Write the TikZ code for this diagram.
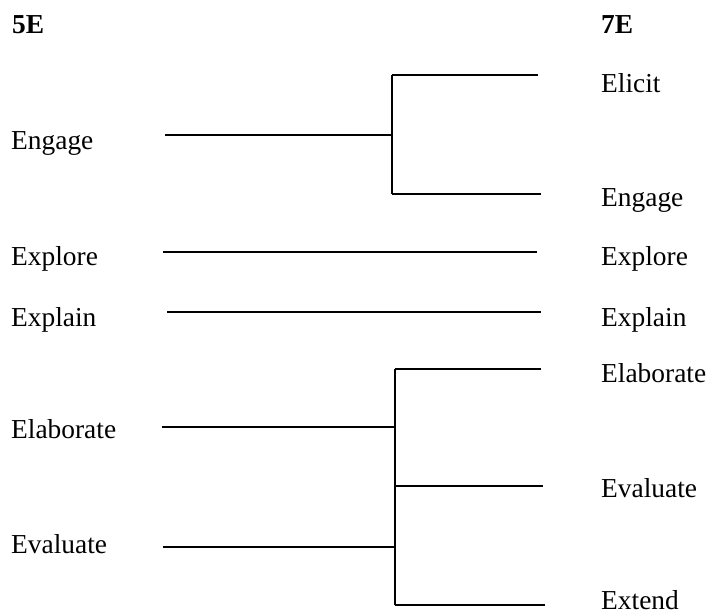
\documentclass[tikz,border=0pt]{standalone}
\usepackage{fontspec}
\setmainfont{Liberation Serif}
\usepackage{tikz}
\usetikzlibrary{positioning}
\tikzset{
  phase/.style={anchor=base west, inner sep=0pt, font=\fontsize{27.4}{32}\selectfont},
  head/.style={phase, font=\fontsize{27.4}{32}\selectfont\bfseries},
  link/.style={line width=2pt, line cap=butt},
}

\begin{document}
\begin{tikzpicture}[x=1pt, y=-1pt]
  \useasboundingbox (0,0) rectangle (708,612);

  % column heads
  \node[head] (h5) at (12,34) {5E};
  \node[head] (h7) at (601,34) {7E};

  % 5E phases
  \node[phase] (lEngage) at (11,150) {Engage};
  \node[phase] (lExplore) at (11,265) {Explore};
  \node[phase] (lExplain) at (11,326) {Explain};
  \node[phase] (lElaborate) at (11,438) {Elaborate};
  \node[phase] (lEvaluate) at (11,553) {Evaluate};

  % 7E phases
  \node[phase] (rElicit) at (601,93) {Elicit};
  \node[phase] (rEngage) at (601,207) {Engage};
  \node[phase] (rExplore) at (601,265) {Explore};
  \node[phase] (rExplain) at (601,326) {Explain};
  \node[phase] (rElaborate) at (601,382) {Elaborate};
  \node[phase] (rEvaluate) at (601,497) {Evaluate};
  \node[phase] (rExtend) at (601,609) {Extend};

  % line ends
  \coordinate (a1) at (165,135);
  \coordinate (j1) at (392,135);
  \coordinate (j1t) at (392,75);
  \coordinate (j1b) at (392,194);
  \coordinate (e1) at (538,75);
  \coordinate (e2) at (541,194);
  \coordinate (a2) at (163,252);
  \coordinate (e3) at (537,252);
  \coordinate (a3) at (167,312);
  \coordinate (e4) at (541,312);
  \coordinate (a4) at (162,427);
  \coordinate (a5) at (163,547);
  \coordinate (j2t) at (395,369);
  \coordinate (j2b) at (395,605);
  \coordinate (e5) at (541,369);
  \coordinate (e6) at (543,486);
  \coordinate (e7) at (545,605);

  % Engage splits into Elicit and Engage
  \draw[link] (a1) -- (j1);
  \draw[link] (j1t) -- (j1b);
  \draw[link] (j1t) -- (e1);
  \draw[link] (j1b) -- (e2);

  % one to one
  \draw[link] (a2) -- (e3);
  \draw[link] (a3) -- (e4);

  % Elaborate and Evaluate become three
  \draw[link] (a4) -- (a4 -| j2t);
  \draw[link] (a5) -- (a5 -| j2t);
  \draw[link] (j2t) -- (j2b);
  \draw[link] (j2t) -- (e5);
  \draw[link] (e6 -| j2t) -- (e6);
  \draw[link] (j2b) -- (e7);

\end{tikzpicture}
\end{document}
